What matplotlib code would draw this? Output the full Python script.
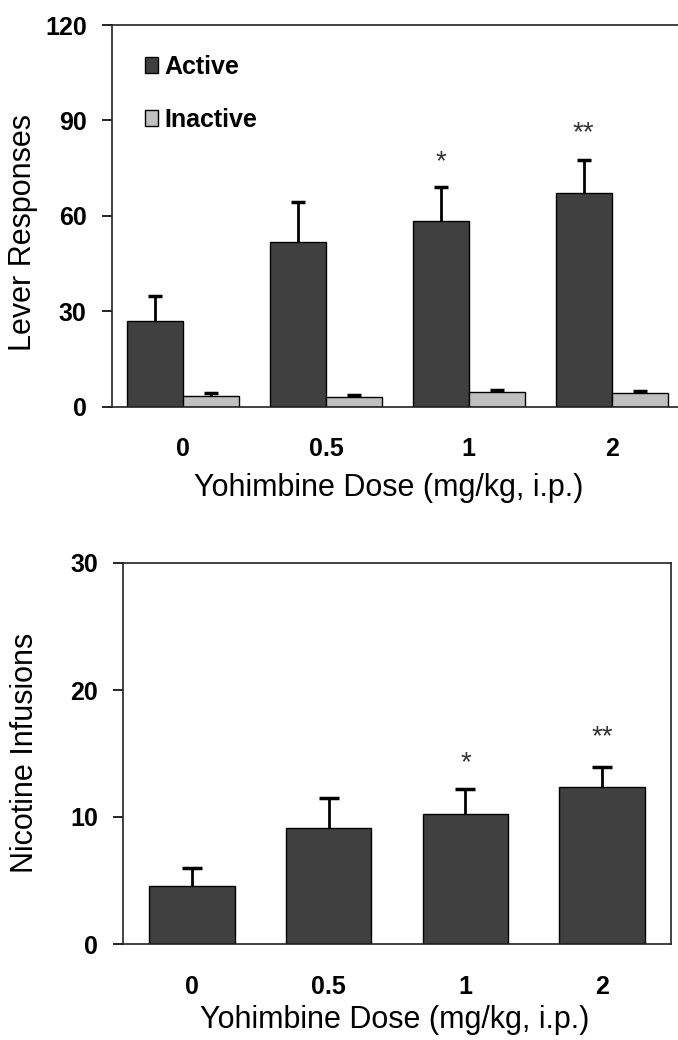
import numpy as np
import matplotlib
matplotlib.use("Agg")
import matplotlib.pyplot as plt

# data
doses = ["0", "0.5", "1", "2"]

active = [26.8, 51.7, 58.5, 67.0]
active_err = [7.9, 12.6, 10.5, 10.5]
inactive = [3.3, 2.9, 4.7, 4.2]
inactive_err = [1.1, 0.8, 0.6, 0.6]
lever_stars = ["", "", "*", "**"]
lever_star_y = [0, 0, 77, 86]

infusions = [4.6, 9.15, 10.25, 12.35]
infusions_err = [1.4, 2.35, 1.95, 1.6]
inf_stars = ["", "", "*", "**"]
inf_star_y = [0, 0, 14.2, 16.3]

plt.rcParams['font.family'] = ['Liberation Sans', 'DejaVu Sans']
TICKFONT = ['Liberation Sans Narrow', 'Liberation Sans', 'DejaVu Sans']

DARK = '#404040'
LIGHT = '#c0c0c0'


def up_errorbar(ax, xpos, vals, errs, cap):
    # only the upper half of the error bar, like the original
    eb = ax.errorbar(xpos, vals, yerr=[np.zeros(len(vals)), errs], fmt='none',
                     ecolor='black', elinewidth=2, capsize=cap, capthick=2.5)
    eb[1][0].set_visible(False)
    return eb


fig = plt.figure(figsize=(6.78, 10.40), dpi=100)

x = np.arange(len(doses))

# ---- top panel: lever responses ----
ax1 = fig.add_axes([111.7/678, 633.5/1040, 571.4/678, 381.5/1040])
w = 0.392
ax1.bar(x - w/2, active, w, color=DARK, edgecolor='black', linewidth=1, label='Active')
ax1.bar(x + w/2, inactive, w, color=LIGHT, edgecolor='black', linewidth=1, label='Inactive')
up_errorbar(ax1, x - w/2, active, active_err, 5)
up_errorbar(ax1, x + w/2, inactive, inactive_err, 5)
for i in range(len(doses)):
    if lever_stars[i]:
        ax1.text(x[i] - w/2, lever_star_y[i], lever_stars[i], ha='center', va='center',
                 fontsize=20, color='#333333')

ax1.set_xlim(-0.5, 3.5)
ax1.set_ylim(0, 120)
ax1.set_yticks([0, 30, 60, 90, 120])
ax1.set_xticks(x)
ax1.set_xticklabels(doses)
ax1.spines['right'].set_visible(False)

ax1.legend(loc='upper left', bbox_to_anchor=(0.04, 0.948), frameon=False,
           handlelength=0.55, handleheight=0.55, handletextpad=0.25,
           labelspacing=1.16, borderaxespad=0,
           prop={'weight': 'bold', 'size': 18})

ax1.set_ylabel('Lever Responses', fontsize=22, va='center')
ax1.yaxis.set_label_coords(-0.155, 0.455)
ax1.set_xlabel('Yohimbine Dose (mg/kg, i.p.)', fontsize=22, va='center')
ax1.xaxis.set_label_coords(0.484, -0.214)

# ---- bottom panel: nicotine infusions ----
ax2 = fig.add_axes([123.3/678, 96/1040, 547.4/678, 381/1040])
w2 = 0.627
ax2.bar(x, infusions, w2, color=DARK, edgecolor='black', linewidth=1)
up_errorbar(ax2, x, infusions, infusions_err, 7)
for i in range(len(doses)):
    if inf_stars[i]:
        ax2.text(x[i], inf_star_y[i], inf_stars[i], ha='center', va='center',
                 fontsize=20, color='#333333')

ax2.set_xlim(-0.5, 3.5)
ax2.set_ylim(0, 30)
ax2.set_yticks([0, 10, 20, 30])
ax2.set_xticks(x)
ax2.set_xticklabels(doses)

ax2.set_ylabel('Nicotine Infusions', fontsize=22, va='center')
ax2.yaxis.set_label_coords(-0.180, 0.501)
ax2.set_xlabel('Yohimbine Dose (mg/kg, i.p.)', fontsize=22, va='center')
ax2.xaxis.set_label_coords(0.496, -0.2)

for ax in (ax1, ax2):
    for s in ax.spines.values():
        s.set_linewidth(1.2)
        s.set_color('#222222')
    ax.tick_params(axis='y', direction='out', length=7, width=1.2, pad=11)
    ax.tick_params(axis='x', length=0, pad=22)
    for lab in ax.get_xticklabels() + ax.get_yticklabels():
        lab.set_fontweight('bold')
        lab.set_fontfamily(TICKFONT)
        lab.set_fontsize(18)

fig.savefig('out.png', dpi=100)
